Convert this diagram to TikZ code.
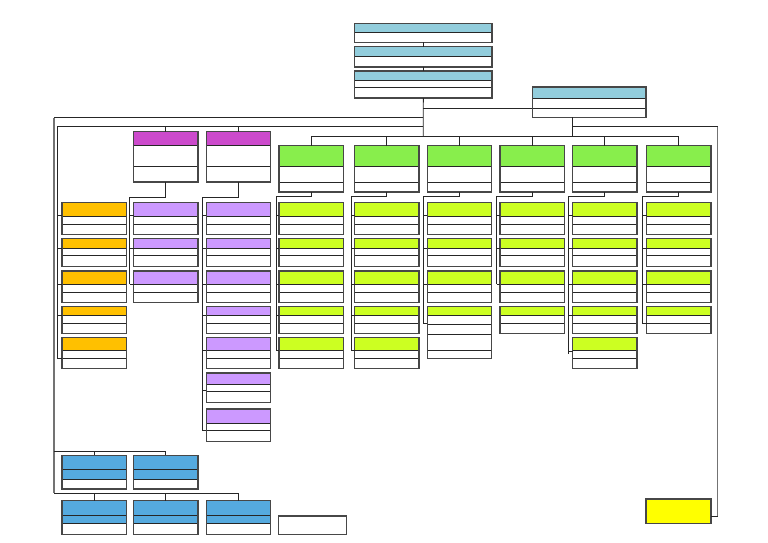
\documentclass[tikz,border=0pt]{standalone}
\definecolor{cTop}{HTML}{92CDDC}
\definecolor{cMag}{HTML}{CC4ACC}
\definecolor{cPur}{HTML}{CC99FF}
\definecolor{cOra}{HTML}{FFC000}
\definecolor{cGrn}{HTML}{88EE4C}
\definecolor{cLim}{HTML}{CCFF22}
\definecolor{cBlu}{HTML}{55AADF}
\definecolor{cYel}{HTML}{FFFF00}
\tikzset{
 frame/.style={draw=black!72, line width=1.1pt, inner sep=0pt, outer sep=0pt, fill=none},
 div/.style={draw=black!85, line width=0.9pt},
 conn/.style={draw=black!85, line width=0.8pt},
 outer/.style={draw=black!55, line width=1.4pt},
}
% name, left x, top y, width, bottom y, colour, band bottom, extra divider list
\newcommand{\bx}[8]{%
 \fill[#6] (#2,#3) rectangle (#2+#4,#7);
 \draw[div] (#2,#7) -- (#2+#4,#7);
 \foreach \yy in {#8} {\draw[div] (#2,\yy) -- (#2+#4,\yy);}
 \node[frame, minimum width=#4pt, minimum height={#5-#3}, anchor=north west] (#1) at (#2,#3) {};
}
\newcommand{\rA}[3]{\bx{#1}{#2}{202.3}{64.3}{234.3}{#3}{216.3}{224.7}}
\newcommand{\rB}[3]{\bx{#1}{#2}{238.7}{64.3}{266.7}{#3}{248.7}{255.7}}
\newcommand{\rC}[3]{\bx{#1}{#2}{271}{64.3}{302.3}{#3}{284}{292.5}}
\newcommand{\rD}[3]{\bx{#1}{#2}{306.3}{64.3}{333.3}{#3}{315.3}{323.3}}
\newcommand{\rE}[3]{\bx{#1}{#2}{337.3}{64.3}{368.7}{#3}{350.3}{358.7}}
\newcommand{\rF}[3]{\bx{#1}{#2}{373}{64.3}{402.7}{#3}{384.5}{391}}
\newcommand{\rG}[3]{\bx{#1}{#2}{409}{64.3}{441.3}{#3}{423}{430.3}}
\newcommand{\tick}[3]{\draw[conn] (#1,#3) -- (#2.west |- 0,#3);}
\begin{document}
\begin{tikzpicture}[x=1pt,y=-1pt]
\useasboundingbox (0,0) rectangle (768,543);
% top boxes
\bx{t1}{354.7}{23.3}{137.3}{42.3}{cTop}{32.7}{32.7}
\bx{t2}{354.7}{46.7}{137.3}{67}{cTop}{56.7}{56.7}
\bx{t3}{354.7}{71}{137.3}{98}{cTop}{80}{87.3}
\bx{rb}{532.3}{87}{113.7}{117.3}{cTop}{98.3}{108.3}
% magenta
\bx{m1}{133.7}{131.7}{64.3}{182}{cMag}{145.7}{166.7}
\bx{m2}{206.3}{131.7}{64.3}{182}{cMag}{145.7}{166.7}
% green heads
\bx{h1}{279}{145.7}{64.3}{192}{cGrn}{166.7}{182}
\bx{h2}{354.7}{145.7}{64.3}{192}{cGrn}{166.7}{182}
\bx{h3}{427.3}{145.7}{64.3}{192}{cGrn}{166.7}{182}
\bx{h4}{500}{145.7}{64.3}{192}{cGrn}{166.7}{182}
\bx{h5}{572.7}{145.7}{64.3}{192}{cGrn}{166.7}{182}
\bx{h6}{646.7}{145.7}{64.3}{192}{cGrn}{166.7}{182}
% orange
\rA{o1}{62}{cOra}\rB{o2}{62}{cOra}\rC{o3}{62}{cOra}\rD{o4}{62}{cOra}\rE{o5}{62}{cOra}
% purple
\rA{p11}{133.7}{cPur}\rB{p12}{133.7}{cPur}\rC{p13}{133.7}{cPur}
\rA{p21}{206.3}{cPur}\rB{p22}{206.3}{cPur}\rC{p23}{206.3}{cPur}\rD{p24}{206.3}{cPur}
\rE{p25}{206.3}{cPur}\rF{p26}{206.3}{cPur}\rG{p27}{206.3}{cPur}
% lime
\rA{g11}{279}{cLim}\rB{g12}{279}{cLim}\rC{g13}{279}{cLim}\rD{g14}{279}{cLim}\rE{g15}{279}{cLim}
\rA{g21}{354.7}{cLim}\rB{g22}{354.7}{cLim}\rC{g23}{354.7}{cLim}\rD{g24}{354.7}{cLim}\rE{g25}{354.7}{cLim}
\rA{g31}{427.3}{cLim}\rB{g32}{427.3}{cLim}\rC{g33}{427.3}{cLim}
\bx{g34}{427.3}{306.3}{64.3}{358.5}{cLim}{315.3}{324,334,350.7}
\rA{g41}{500}{cLim}\rB{g42}{500}{cLim}\rC{g43}{500}{cLim}\rD{g44}{500}{cLim}
\rA{g51}{572.7}{cLim}\rB{g52}{572.7}{cLim}\rC{g53}{572.7}{cLim}\rD{g54}{572.7}{cLim}\rE{g55}{572.7}{cLim}
\rA{g61}{646.7}{cLim}\rB{g62}{646.7}{cLim}\rC{g63}{646.7}{cLim}\rD{g64}{646.7}{cLim}
% blue
\bx{ba1}{62}{455.3}{64.3}{489}{cBlu}{479}{469.3}
\bx{ba2}{133.7}{455.3}{64.3}{489}{cBlu}{479}{469.3}
\bx{bb1}{62}{500.7}{64.3}{534.3}{cBlu}{523.3}{515.7}
\bx{bb2}{133.7}{500.7}{64.3}{534.3}{cBlu}{523.3}{515.7}
\bx{bb3}{206.3}{500.7}{64.3}{534.3}{cBlu}{523.3}{515.7}
% blank and yellow
\node[frame, minimum width=68pt, minimum height=18.3pt, anchor=north west] (blank) at (278.7,516) {};
\node[frame, fill=cYel, minimum width=65pt, minimum height=24.3pt, anchor=north west] (yel) at (646,499) {};
% ---- connectors
\coordinate (hub) at (423.3,136.3);
\draw[conn] (t1.south) -- (t2.north);
\draw[conn] (t2.south) -- (t3.north);
\draw[conn] (t3.south) -- (hub);
\draw[conn] (423.3,108.3) -- (rb.west |- 0,108.3);
\draw[conn] (423.3,117.5) -- (54,117.5);
\draw[outer] (54,117.5) -- (54,493.3);
\draw[conn] (423.3,126.7) -- (57,126.7);
\draw[conn] (57,126.7) -- (57,358.5);
\draw[conn] (m1.north |- 0,126.7) -- (m1.north);
\draw[conn] (m2.north |- 0,126.7) -- (m2.north);
% green bus
\draw[conn] (h1.north |- hub) -- (h6.north |- hub);
\foreach \h in {h1,h2,h3,h4,h5,h6} {\draw[conn] (\h.north |- hub) -- (\h.north);}
\draw[conn] (572.7,117.3) -- (572.7,136.3);
\draw[conn] (572.7,126.7) -- (717.7,126.7);
\draw[outer] (717.7,126.7) -- (717.7,516);
\draw[conn] (717.7,516) -- (yel.east |- 0,516);
% orange ticks
\tick{57}{o1}{215.7}\tick{57}{o2}{248.3}\tick{57}{o3}{284}\tick{57}{o4}{315.3}\tick{57}{o5}{358.5}
% magenta columns
\draw[conn] (m1.south) -- (m1.south |- 0,197.3) -- (129.7,197.3) -- (129.7,284);
\tick{129.7}{p11}{215.7}\tick{129.7}{p12}{248.3}\tick{129.7}{p13}{284}
\draw[conn] (m2.south) -- (m2.south |- 0,197.3) -- (202.3,197.3) -- (202.3,430.3);
\tick{202.3}{p21}{215.7}\tick{202.3}{p22}{248.3}\tick{202.3}{p23}{284}\tick{202.3}{p24}{315.3}
\tick{202.3}{p25}{350.3}\tick{202.3}{p26}{390.8}\tick{202.3}{p27}{430.3}
% green columns
\draw[conn] (h1.south) -- (h1.south |- 0,196.7) -- (276,196.7) -- (276,350.3);
\tick{276}{g11}{215.7}\tick{276}{g12}{248.3}\tick{276}{g13}{284}\tick{276}{g14}{315.3}\tick{276}{g15}{350.3}
\draw[conn] (h2.south) -- (h2.south |- 0,196.7) -- (351.3,196.7) -- (351.3,350.3);
\tick{351.3}{g21}{215.7}\tick{351.3}{g22}{248.3}\tick{351.3}{g23}{284}\tick{351.3}{g24}{315.3}\tick{351.3}{g25}{350.3}
\draw[conn] (h3.south) -- (h3.south |- 0,196.7) -- (423.7,196.7) -- (423.7,323.5);
\tick{423.7}{g31}{215.7}\tick{423.7}{g32}{248.3}\tick{423.7}{g33}{284}\tick{423.7}{g34}{323.5}
\draw[conn] (h4.south) -- (h4.south |- 0,196.7) -- (496.7,196.7) -- (496.7,284);
\tick{496.7}{g41}{215.7}\tick{496.7}{g42}{248.3}\tick{496.7}{g43}{284}
\draw[conn] (h5.south) -- (h5.south |- 0,196.7) -- (568.7,196.7) -- (568.7,354);
\tick{568.7}{g51}{215.7}\tick{568.7}{g52}{248.3}\tick{568.7}{g53}{284}\tick{568.7}{g54}{315.3}\tick{568.7}{g55}{351}
\draw[conn] (h6.south) -- (h6.south |- 0,196.7) -- (642.3,196.7) -- (642.3,323);
\tick{642.3}{g61}{215.7}\tick{642.3}{g62}{248.3}\tick{642.3}{g63}{284}\tick{642.3}{g64}{323}
% blue buses
\draw[conn] (54,451.7) -- (ba2.north |- 0,451.7) -- (ba2.north);
\draw[conn] (ba1.north |- 0,451.7) -- (ba1.north);
\draw[conn] (54,493.3) -- (bb3.north |- 0,493.3) -- (bb3.north);
\draw[conn] (bb1.north |- 0,493.3) -- (bb1.north);
\draw[conn] (bb2.north |- 0,493.3) -- (bb2.north);
\end{tikzpicture}
\end{document}
